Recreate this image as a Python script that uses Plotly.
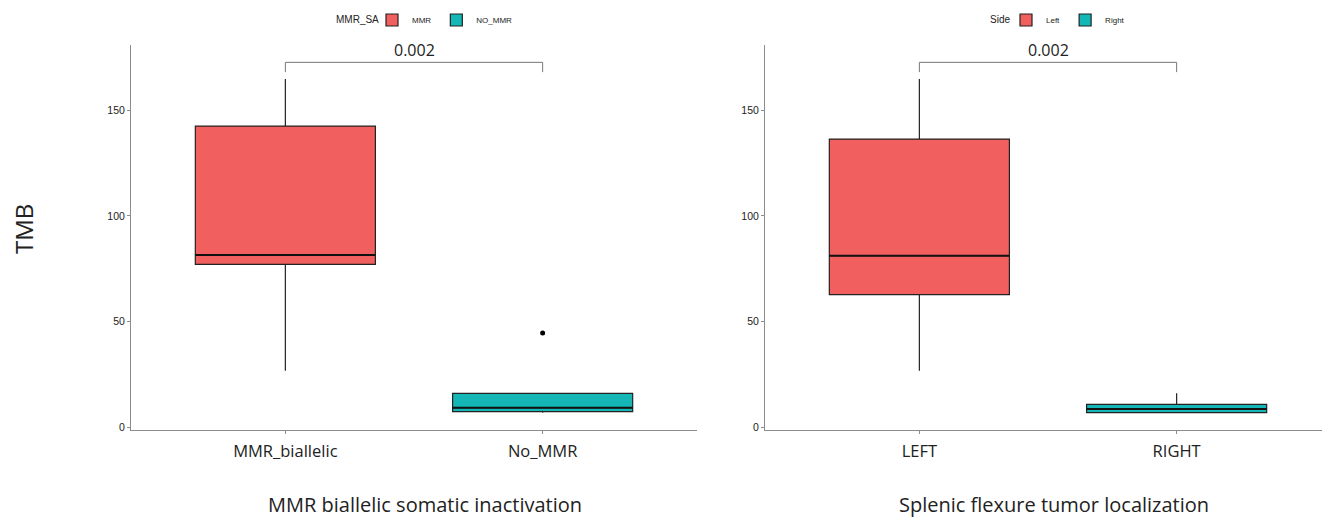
import plotly.graph_objects as go

W, H = 1322, 517

# ---------------- data ----------------
left_categories = ["MMR_biallelic", "No_MMR"]
left_legend_names = ["MMR", "NO_MMR"]
left_q1 = [77.1, 7.6]
left_median = [81.5, 9.4]
left_q3 = [142.4, 16.2]
left_lower = [26.9, 7.1]
left_upper = [164.6, 16.2]
left_outliers_x = ["No_MMR"]
left_outliers_y = [44.7]
left_pvalue = "0.002"

right_categories = ["LEFT", "RIGHT"]
right_legend_names = ["Left", "Right"]
right_q1 = [62.8, 7.1]
right_median = [81.2, 8.8]
right_q3 = [136.3, 11.0]
right_lower = [26.9, 7.1]
right_upper = [164.6, 16.2]
right_pvalue = "0.002"

bracket_top = 172.5
bracket_drop = 167.9

y_ticks = [0, 50, 100, 150]
colors = ["#F15F5E", "#14B6B6"]

# ---------------- layout helpers ----------------
def px_x(p):
    return p / W

def px_y(p):
    return 1 - p / H

BOX_W = 0.7
fig = go.Figure()

panels = [
    dict(xa="x", ya="y", cats=left_categories, names=left_legend_names,
         q1=left_q1, med=left_median, q3=left_q3, lo=left_lower, hi=left_upper,
         legend="legend", p=left_pvalue),
    dict(xa="x2", ya="y2", cats=right_categories, names=right_legend_names,
         q1=right_q1, med=right_median, q3=right_q3, lo=right_lower, hi=right_upper,
         legend="legend2", p=right_pvalue),
]

for pan in panels:
    for i, cat in enumerate(pan["cats"]):
        pos = i + 1
        fig.add_trace(go.Box(
            x=[pos], q1=[pan["q1"][i]], median=[pan["med"][i]], q3=[pan["q3"][i]],
            lowerfence=[pan["lo"][i]], upperfence=[pan["hi"][i]],
            name=pan["names"][i], legend=pan["legend"],
            fillcolor=colors[i], line=dict(color="#222222", width=1.2),
            width=BOX_W, whiskerwidth=0, boxpoints=False,
            xaxis=pan["xa"], yaxis=pan["ya"], hoverinfo="skip",
        ))
        # thicker median line
        fig.add_trace(go.Scatter(
            x=[pos - BOX_W / 2, pos + BOX_W / 2], y=[pan["med"][i]] * 2,
            mode="lines", line=dict(color="#111111", width=2),
            showlegend=False, xaxis=pan["xa"], yaxis=pan["ya"], hoverinfo="skip",
        ))
    # significance bracket
    fig.add_trace(go.Scatter(
        x=[1, 1, 2, 2], y=[bracket_drop, bracket_top, bracket_top, bracket_drop],
        mode="lines", line=dict(color="#777777", width=1),
        showlegend=False, xaxis=pan["xa"], yaxis=pan["ya"], hoverinfo="skip",
    ))
    fig.add_annotation(
        x=1.5, y=bracket_top, xref=pan["xa"], yref=pan["ya"], text=pan["p"],
        showarrow=False, yanchor="bottom", yshift=-1,
        font=dict(family="Open Sans", size=16, color="#222222"),
    )

# outlier
fig.add_trace(go.Scatter(
    x=[left_categories.index(c) + 1 for c in left_outliers_x], y=left_outliers_y,
    mode="markers", marker=dict(color="black", size=5),
    showlegend=False, xaxis="x", yaxis="y", hoverinfo="skip",
))

y_range = [-1.1, 180.7]
ydom = [px_y(430), px_y(45)]

axis_common = dict(
    showgrid=False, zeroline=False, showline=True, linecolor="#8c8c8c", linewidth=1,
    ticks="outside", ticklen=3, tickcolor="#8c8c8c", automargin=False,
)

left_x0, left_x1 = 131, 697
right_x0 = 765
spacing = (left_x1 - left_x0) / 2.2
right_max = 0.4 + (W - right_x0) / spacing

xtickfont = dict(family="Open Sans", size=16.5, color="#222222")
ytickfont = dict(family="Liberation Sans", size=10.5, color="#222222")
leg_font = dict(family="Liberation Sans", size=8, color="#222222")

fig.update_layout(
    width=W, height=H, margin=dict(l=0, r=0, t=0, b=0, autoexpand=False),
    plot_bgcolor="white", paper_bgcolor="white", boxmode="overlay",
    xaxis=dict(domain=[px_x(left_x0), px_x(left_x1)], range=[0.4, 2.6],
               tickvals=[1, 2], ticktext=left_categories, anchor="y",
               tickfont=xtickfont, ticklabelstandoff=3, **axis_common),
    yaxis=dict(domain=ydom, range=y_range, tickvals=y_ticks, anchor="x",
               tickfont=ytickfont, **axis_common),
    xaxis2=dict(domain=[px_x(right_x0), 1], range=[0.4, right_max],
                tickvals=[1, 2], ticktext=right_categories, anchor="y2",
                tickfont=xtickfont, ticklabelstandoff=3, **axis_common),
    yaxis2=dict(domain=ydom, range=y_range, tickvals=y_ticks, anchor="x2",
                tickfont=ytickfont, **axis_common),
    legend=dict(orientation="h", x=px_x(372), xanchor="left", y=px_y(20), yanchor="middle",
                font=leg_font, itemwidth=30, bgcolor="rgba(0,0,0,0)"),
    legend2=dict(orientation="h", x=px_x(1006), xanchor="left", y=px_y(20), yanchor="middle",
                 font=leg_font, itemwidth=30, bgcolor="rgba(0,0,0,0)"),
)

# legend titles
fig.add_annotation(x=px_x(381), y=px_y(20), xref="paper", yref="paper", text="MMR_SA",
                   xanchor="right", yanchor="middle", showarrow=False,
                   font=dict(family="Liberation Sans", size=10, color="#222222"))
fig.add_annotation(x=px_x(1012), y=px_y(20), xref="paper", yref="paper", text="Side",
                   xanchor="right", yanchor="middle", showarrow=False,
                   font=dict(family="Liberation Sans", size=10, color="#222222"))

# axis titles
fig.add_annotation(x=px_x(23), y=px_y(229), xref="paper", yref="paper", text="TMB",
                   textangle=-90, showarrow=False, xanchor="center", yanchor="middle",
                   font=dict(family="Open Sans", size=24, color="#222222"))
fig.add_annotation(x=px_x(425), y=px_y(504), xref="paper", yref="paper",
                   text="MMR biallelic somatic inactivation", showarrow=False,
                   xanchor="center", yanchor="middle",
                   font=dict(family="Open Sans", size=20, color="#222222"))
fig.add_annotation(x=px_x(1054), y=px_y(504), xref="paper", yref="paper",
                   text="Splenic flexure tumor localization", showarrow=False,
                   xanchor="center", yanchor="middle",
                   font=dict(family="Open Sans", size=20, color="#222222"))

fig.write_html("out.html", config={"displayModeBar": False},
               post_script="document.body.style.margin='0';document.body.style.overflow='hidden';")
